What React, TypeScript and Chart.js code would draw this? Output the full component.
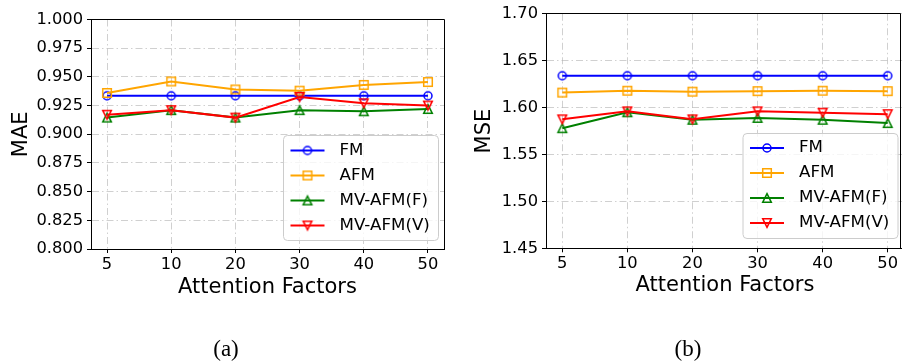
import React, { useEffect, useRef } from "react";
import { Chart, registerables } from "chart.js";

Chart.register(...registerables);

// ---------- data ----------
const xLabels = ["5", "10", "20", "30", "40", "50"];
const seriesNames = ["FM", "AFM", "MV-AFM(F)", "MV-AFM(V)"];

const maeFM = [0.9335, 0.9335, 0.9335, 0.9335, 0.9335, 0.9335];
const maeAFM = [0.936, 0.946, 0.939, 0.938, 0.943, 0.9455];
const maeF = [0.9145, 0.921, 0.9145, 0.921, 0.920, 0.922];
const maeV = [0.917, 0.921, 0.9145, 0.9325, 0.927, 0.925];

const mseFM = [1.634, 1.634, 1.634, 1.634, 1.634, 1.634];
const mseAFM = [1.616, 1.618, 1.617, 1.6175, 1.618, 1.6175];
const mseF = [1.578, 1.595, 1.587, 1.589, 1.587, 1.5835];
const mseV = [1.5875, 1.596, 1.5875, 1.596, 1.5945, 1.593];

const maeTicks = [0.8, 0.825, 0.85, 0.875, 0.9, 0.925, 0.95, 0.975, 1.0];
const mseTicks = [1.45, 1.5, 1.55, 1.6, 1.65, 1.7];

// ---------- styles ----------
const seriesColors = ["#0000ff", "#ffa500", "#008000", "#ff0000"];
const seriesMarkers = ["circle", "square", "triUp", "triDown"];
const FONT = "'DejaVu Sans', sans-serif";
const GRID = "rgba(176,176,176,0.6)";
const DASH = [7, 3, 1.5, 3];

function makeSprite(kind: string, color: string): HTMLCanvasElement {
  const s = 14;
  const c = document.createElement("canvas");
  c.width = s;
  c.height = s;
  const g = c.getContext("2d")!;
  g.strokeStyle = color;
  g.lineWidth = 1.5;
  const m = s / 2;
  const h = 4.3;
  g.beginPath();
  if (kind === "circle") g.arc(m, m, 4, 0, Math.PI * 2);
  else if (kind === "square") g.rect(m - h, m - h, 2 * h, 2 * h);
  else if (kind === "triUp") {
    g.moveTo(m, m - h);
    g.lineTo(m + h, m + h);
    g.lineTo(m - h, m + h);
    g.closePath();
  } else {
    g.moveTo(m, m + h);
    g.lineTo(m + h, m - h);
    g.lineTo(m - h, m - h);
    g.closePath();
  }
  g.stroke();
  return c;
}

const framePlugin = {
  id: "frame",
  afterDraw(chart: any, _a: any, opts: any) {
    const ctx = chart.ctx;
    const ca = chart.chartArea;
    const al = (v: number) => Math.round(v - 0.5) + 0.5;
    const l = al(ca.left);
    const t = al(ca.top);
    const b = al(ca.bottom);
    const r = al(opts && opts.right != null ? opts.right : ca.right);
    ctx.save();
    ctx.strokeStyle = "#000";
    ctx.lineWidth = 1;
    ctx.setLineDash([]);
    ctx.beginPath();
    ctx.moveTo(l, t);
    ctx.lineTo(r, t);
    ctx.lineTo(r, b);
    ctx.lineTo(l, b);
    ctx.closePath();
    ctx.stroke();
    ctx.restore();
  },
};

const legendPlugin = {
  id: "mplLegend",
  afterDatasetsDraw(chart: any, _a: any, o: any) {
    const ctx = chart.ctx;
    ctx.save();
    ctx.beginPath();
    ctx.roundRect(o.x, o.y, o.w, o.h, 4);
    ctx.fillStyle = "rgba(255,255,255,0.8)";
    ctx.fill();
    ctx.strokeStyle = "#cccccc";
    ctx.lineWidth = 1;
    ctx.stroke();
    chart.data.datasets.forEach((ds: any, i: number) => {
      const cy = o.y + o.rowStart + i * o.rowGap;
      ctx.strokeStyle = ds.borderColor;
      ctx.lineWidth = 2;
      ctx.beginPath();
      ctx.moveTo(o.x + o.lineStart, cy);
      ctx.lineTo(o.x + o.lineStart + o.lineLen, cy);
      ctx.stroke();
      const sp = ds.pointStyle as HTMLCanvasElement;
      ctx.drawImage(sp, o.x + o.lineStart + o.lineLen / 2 - sp.width / 2, cy - sp.height / 2);
      ctx.fillStyle = "#000";
      ctx.font = `16.7px ${FONT}`;
      ctx.textBaseline = "middle";
      ctx.textAlign = "left";
      ctx.fillText(ds.label, o.x + o.textStart, cy);
    });
    ctx.restore();
  },
};

function makeConfig(p: any, sprites: HTMLCanvasElement[]) {
  const series = p.values.map((vals: number[], i: number) => ({
    label: seriesNames[i],
    data: vals.map((v, j) => ({ x: j, y: v })),
    borderColor: seriesColors[i],
    backgroundColor: seriesColors[i],
    borderWidth: 2,
    pointStyle: sprites[i],
    pointRadius: 5,
    pointHoverRadius: 5,
    order: p.values.length - i,
    tension: 0,
    fill: false,
  }));
  return {
    type: "line",
    data: { datasets: series },
    options: {
      animation: false,
      responsive: false,
      devicePixelRatio: 1,
      events: [],
      layout: { padding: { left: 0, right: p.padRight, top: p.padTop, bottom: 0 } },
      plugins: {
        legend: { display: false },
        tooltip: { enabled: false },
        frame: { right: p.frameRight },
        mplLegend: p.legend,
      },
      scales: {
        x: {
          type: "linear",
          min: -0.25,
          max: 5.25,
          afterBuildTicks: (s: any) => {
            s.ticks = xLabels.map((_, i) => ({ value: i }));
          },
          afterFit: (s: any) => {
            s.height = p.xAxisHeight;
          },
          ticks: {
            callback: (v: any) => xLabels[Math.round(v)],
            font: { family: FONT, size: 16.3 },
            color: "#000",
            padding: 2,
            maxRotation: 0,
            autoSkip: false,
          },
          grid: {
            color: GRID,
            lineWidth: 1,
            drawTicks: true,
            tickLength: 4,
            tickColor: "#000",
            tickWidth: 1,
            tickBorderDash: [],
          },
          border: { display: true, color: "#000", width: 1, dash: DASH },
          title: {
            display: true,
            text: "Attention Factors",
            font: { family: FONT, size: 21 },
            color: "#000",
            padding: { top: 0, bottom: p.xTitlePad },
          },
        },
        y: {
          type: "linear",
          min: p.yTicks[0],
          max: p.yTicks[p.yTicks.length - 1],
          afterBuildTicks: (s: any) => {
            s.ticks = p.yTicks.map((v: number) => ({ value: v }));
          },
          afterFit: (s: any) => {
            s.width = p.yAxisWidth;
          },
          ticks: {
            callback: (v: any) => Number(v).toFixed(p.decimals),
            font: { family: FONT, size: 16.3 },
            color: "#000",
            padding: 4,
          },
          grid: {
            color: GRID,
            lineWidth: 1,
            drawTicks: true,
            tickLength: 4,
            tickColor: "#000",
            tickWidth: 1,
            tickBorderDash: [],
          },
          border: { display: true, color: "#000", width: 1, dash: DASH },
          title: {
            display: true,
            text: p.yTitle,
            font: { family: FONT, size: 21 },
            color: "#000",
            padding: { top: p.yTitlePad, bottom: 0 },
          },
        },
      },
    },
    plugins: [framePlugin, legendPlugin],
  };
}

export default function App() {
  const refA = useRef<HTMLCanvasElement>(null);
  const refB = useRef<HTMLCanvasElement>(null);

  useEffect(() => {
    const sprites = seriesMarkers.map((m, i) => makeSprite(m, seriesColors[i]));
    const legendCommon = { w: 155, h: 105, rowStart: 15, rowGap: 25, lineStart: 7, lineLen: 34, textStart: 56 };
    const a = new Chart(
      refA.current!,
      makeConfig(
        {
          values: [maeFM, maeAFM, maeF, maeV],
          yTicks: maeTicks,
          decimals: 3,
          yTitle: "MAE",
          yTitlePad: 9.4,
          yAxisWidth: 91,
          xAxisHeight: 114,
          xTitlePad: 62.4,
          padRight: 4.3,
          padTop: 19.5,
          frameRight: null,
          legend: { ...legendCommon, x: 283.5, y: 135.5 },
        },
        sprites
      ) as any
    );
    const b = new Chart(
      refB.current!,
      makeConfig(
        {
          values: [mseFM, mseAFM, mseF, mseV],
          yTicks: mseTicks,
          decimals: 2,
          yTitle: "MSE",
          yTitlePad: 20.8,
          yAxisWidth: 95,
          xAxisHeight: 114.7,
          xTitlePad: 64.4,
          padRight: 3,
          padTop: 12.7,
          frameRight: 449.7,
          legend: { ...legendCommon, x: 292, y: 133.5, rowStart: 14.5 },
        },
        sprites
      ) as any
    );
    return () => {
      a.destroy();
      b.destroy();
    };
  }, []);

  const capStyle: React.CSSProperties = {
    position: "absolute",
    top: 336.5,
    transform: "translateX(-50%)",
    fontFamily: "'Liberation Serif', serif",
    fontSize: 23,
    lineHeight: "23px",
    color: "#000",
    whiteSpace: "nowrap",
  };

  return (
    <div
      style={{
        position: "fixed",
        left: 0,
        top: 0,
        width: 902,
        height: 363,
        overflow: "hidden",
        background: "#fff",
      }}
    >
      <canvas ref={refA} width={451} height={363} style={{ position: "absolute", left: 0, top: 0 }} />
      <canvas ref={refB} width={460} height={363} style={{ position: "absolute", left: 451, top: 0 }} />
      <span style={{ ...capStyle, left: 226 }}>(a)</span>
      <span style={{ ...capStyle, left: 688 }}>(b)</span>
    </div>
  );
}
